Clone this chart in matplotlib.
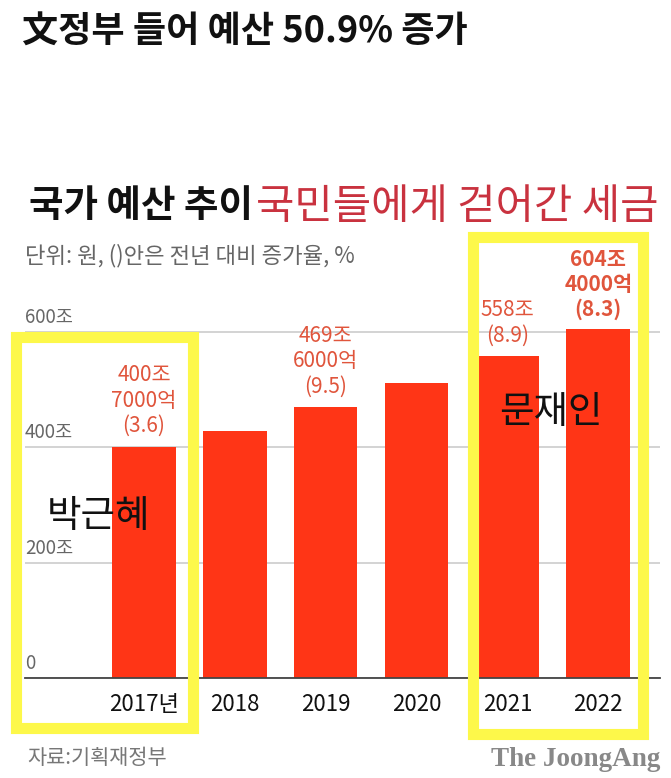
import matplotlib
matplotlib.use('Agg')
import matplotlib.pyplot as plt
from matplotlib.patches import Rectangle
import matplotlib.transforms as mtransforms

plt.rcParams['font.family'] = ['Noto Sans CJK KR', 'DejaVu Sans']

# data
years = ['2017년', '2018', '2019', '2020', '2021', '2022']
budget = [400.7, 428.8, 469.6, 512.3, 558.0, 604.4]   # 조 원
bar_notes = ['400조\n7000억\n(3.6)', '', '469조\n6000억\n(9.5)', '',
             '558조\n(8.9)', '604조\n4000억\n(8.3)']
y_ticks = [0, 200, 400, 600]
y_tick_labels = ['0', '200조', '400조', '600조']

W, H = 671, 778
BAR = '#ff3516'
NOTE = '#e0553c'
YELLOW = '#fdf84a'


def fx(px):
    return px / W


def fy(py):
    return 1 - py / H


fig = plt.figure(figsize=(W / 100, H / 100), dpi=100)
fig.patch.set_facecolor('white')

# axes: x 25..660 px, y 0 at 678 px
ymax = 650
ax_top = 678 - ymax * (346 / 600)
ax = fig.add_axes([fx(25), fy(678), fx(660) - fx(25), (678 - ax_top) / H])
x = list(range(len(years)))
ax.bar(x, budget, width=0.7, color=BAR, zorder=2)
ax.set_xlim(-1.31, 5.68)
ax.set_ylim(0, ymax)

for sp in ['top', 'right', 'left']:
    ax.spines[sp].set_visible(False)
ax.spines['bottom'].set_color('#444444')
ax.spines['bottom'].set_linewidth(1.3)
ax.set_yticks(y_ticks)
ax.set_yticklabels([])
ax.tick_params(axis='y', length=0)
ax.grid(axis='y', color='#cccccc', lw=1.2, zorder=0)
ax.set_xticks(x)
ax.set_xticklabels(years, fontsize=16, color='#111111')
ax.tick_params(axis='x', length=0, pad=11)

trans = mtransforms.blended_transform_factory(ax.transAxes, ax.transData)
for v, lab in zip(y_ticks, y_tick_labels):
    ax.annotate(lab, xy=(0, v), xycoords=trans, xytext=(0, 3),
                textcoords='offset points', ha='left', va='bottom',
                fontsize=13.5, color='#666666')

for i, (v, note) in enumerate(zip(budget, bar_notes)):
    if note:
        ax.annotate(note, xy=(i, v), xytext=(0, 7), textcoords='offset points',
                    ha='center', va='bottom', fontsize=15, color=NOTE,
                    linespacing=1.2,
                    fontweight='bold' if i == len(budget) - 1 else 'normal')

# titles
fig.text(fx(22), fy(32), '文정부 들어 예산 50.9% 증가', fontsize=26,
         fontweight='bold', ha='left', va='center', color='#111111')
t1 = fig.text(fx(29), fy(205), '국가 예산 추이', fontsize=27,
              fontweight='heavy', ha='left', va='center', color='#111111')
fig.canvas.draw()
bb = t1.get_window_extent(fig.canvas.get_renderer())
fig.text(bb.x1 / W + fx(3), fy(207), '국민들에게 걷어간 세금', fontsize=30,
         ha='left', va='center', color='#c9323f')
fig.text(fx(25), fy(256), '단위: 원, ()안은 전년 대비 증가율, %', fontsize=16,
         ha='left', va='center', color='#666666')

# footer
fig.text(fx(27), fy(758), '자료:기획재정부', fontsize=15, ha='left',
         va='center', color='#777777')
fig.text(fx(660), fy(759), 'The JoongAng', fontsize=19.5, fontweight='bold',
         family='Liberation Serif', ha='right', va='center', color='#888888')

# yellow marker boxes
for (l, t, r, b) in [(16, 337.5, 192.5, 727.5), (472.5, 237.5, 642.5, 734)]:
    fig.patches.append(Rectangle((fx(l), fy(b)), fx(r) - fx(l), fy(t) - fy(b),
                                 transform=fig.transFigure, fill=False,
                                 edgecolor=YELLOW, lw=8, joinstyle='miter',
                                 zorder=5))

fig.text(fx(98), fy(517), '박근혜', fontsize=27, ha='center', va='center',
         color='#111111', zorder=6)
fig.text(fx(551), fy(412), '문재인', fontsize=27, ha='center', va='center',
         color='#111111', zorder=6)

fig.savefig('out.png', dpi=100)
